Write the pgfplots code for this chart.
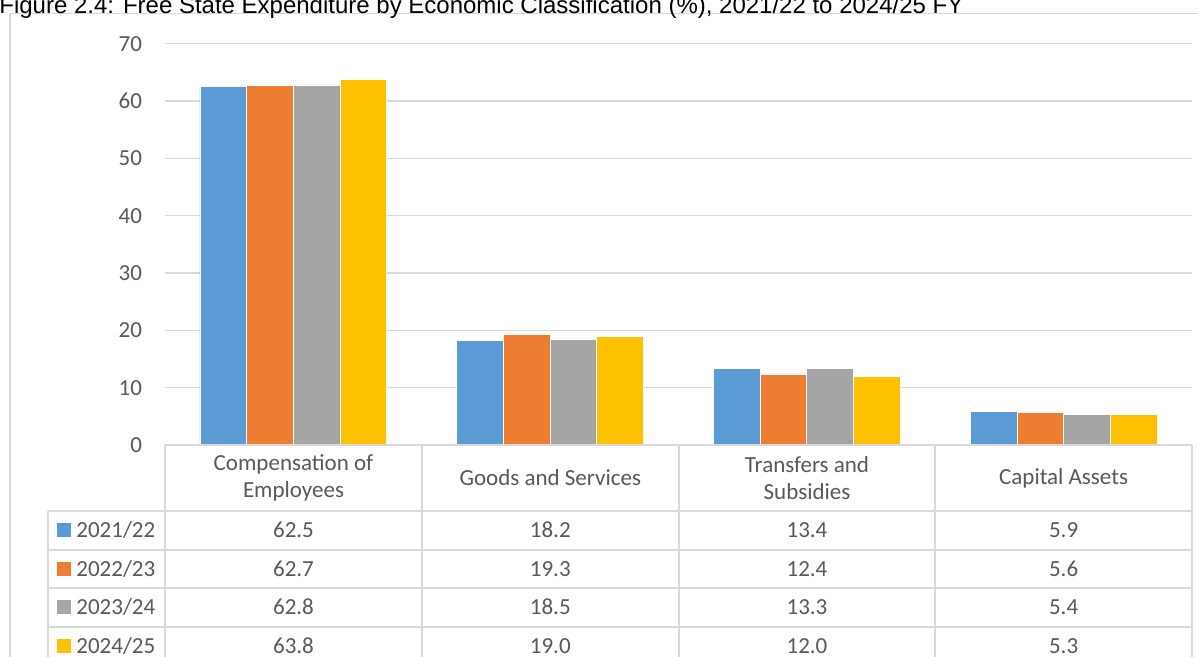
\documentclass[border=0pt]{standalone}
\usepackage{pgfplots}
\pgfplotsset{compat=1.18}
\usepackage{fontspec}
\setmainfont{Carlito}
\newfontfamily\arial{Liberation Sans}
\definecolor{cblue}{HTML}{5B9BD5}
\definecolor{corange}{HTML}{ED7D31}
\definecolor{cgray}{HTML}{A5A5A5}
\definecolor{cyellow}{HTML}{FFC000}
\definecolor{txt}{HTML}{595959}
\definecolor{gridc}{HTML}{D9D9D9}
\begin{document}
\begin{tikzpicture}
\clip (0pt,0pt) rectangle (599pt,-328.5pt);
\fill[white] (0pt,0pt) rectangle (599pt,-328.5pt);
\begin{scope}[x=0.5pt,y=-0.5pt]
\draw[gridc, line width=0.75pt] (10,700) -- (10,13.5) -- (1210,13.5);
\node[anchor=base west, inner sep=0, font=\arial\fontsize{12}{14}\selectfont] at (-1,14) {Figure 2.4: Free State Expenditure by Economic Classification (\%), 2021/22 to 2024/25 FY};
\end{scope}
\begin{axis}[at={(82.5pt,-222.5pt)}, anchor=south west, scale only axis,
  width=513.5pt, height=200.65pt,
  xmin=-0.5, xmax=3.5, ymin=0, ymax=70, ytick={0,10,...,70}, xtick=\empty,
  ymajorgrids, grid style={gridc, line width=0.75pt},
  axis line style={draw=none}, major tick length=0pt,
  ybar, bar width=0.182,
  yticklabel style={font=\fontsize{11.5}{13}\selectfont, text=txt, xshift=-8pt},
  /pgf/number format/assume math mode=true, clip=false]
\addplot[fill=cblue, draw=white, line width=0.4pt, bar shift=-0.273] coordinates {(0,62.5) (1,18.2) (2,13.4) (3,5.9)};
\addplot[fill=corange, draw=white, line width=0.4pt, bar shift=-0.091] coordinates {(0,62.7) (1,19.3) (2,12.4) (3,5.6)};
\addplot[fill=cgray, draw=white, line width=0.4pt, bar shift=0.091] coordinates {(0,62.8) (1,18.5) (2,13.3) (3,5.4)};
\addplot[fill=cyellow, draw=white, line width=0.4pt, bar shift=0.273] coordinates {(0,63.8) (1,19.0) (2,12.0) (3,5.3)};
\end{axis}
\begin{scope}[x=0.5pt,y=-0.5pt]
% table grid
\draw[gridc, line width=0.75pt] (165,445) -- (1192,445);
\foreach \yy in {511,550,588,627,665} \draw[gridc, line width=0.75pt] (48,\yy) -- (1192,\yy);
\draw[gridc, line width=0.75pt] (48,511) -- (48,700);
\foreach \xx in {165,422,679,935,1192} \draw[gridc, line width=0.75pt] (\xx,445) -- (\xx,700);
\begin{scope}[every node/.style={text=txt, font=\fontsize{11.5}{13.5}\selectfont, align=center, inner sep=0}]
\node at (293.5,478) {Compensation of\\Employees};
\node at (550.3,478) {Goods and Services};
\node at (807,478) {Transfers and\\Subsidies};
\node at (1063.6,478) {Capital Assets};
\fill[cblue] (57,523) rectangle (71,537);
\fill[corange] (57,562) rectangle (71,576);
\fill[cgray] (57,600) rectangle (71,614);
\fill[cyellow] (57,639) rectangle (71,653);
\node[anchor=west] at (76,530) {2021/22};
\node[anchor=west] at (76,569) {2022/23};
\node[anchor=west] at (76,607) {2023/24};
\node[anchor=west] at (76,646) {2024/25};
\node at (293.5,530) {62.5}; \node at (550.3,530) {18.2}; \node at (807,530) {13.4}; \node at (1063.6,530) {5.9};
\node at (293.5,569) {62.7}; \node at (550.3,569) {19.3}; \node at (807,569) {12.4}; \node at (1063.6,569) {5.6};
\node at (293.5,607) {62.8}; \node at (550.3,607) {18.5}; \node at (807,607) {13.3}; \node at (1063.6,607) {5.4};
\node at (293.5,646) {63.8}; \node at (550.3,646) {19.0}; \node at (807,646) {12.0}; \node at (1063.6,646) {5.3};
\end{scope}
\end{scope}
\end{tikzpicture}
\end{document}
